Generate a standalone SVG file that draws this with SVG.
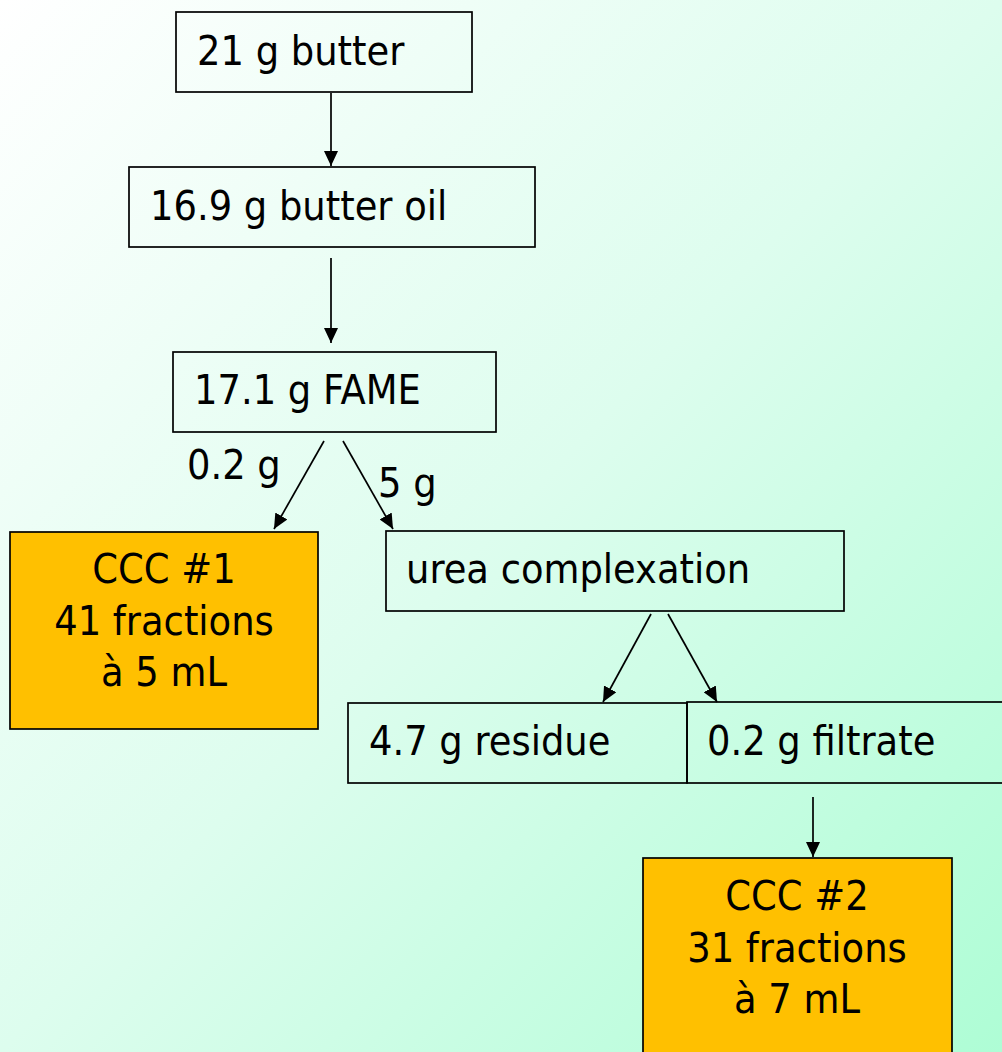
<svg xmlns="http://www.w3.org/2000/svg" width="1002" height="1052" viewBox="0 0 1002 1052">
  <defs>
    <linearGradient id="bg" x1="0" y1="0" x2="1" y2="1">
      <stop offset="0" stop-color="#FFFFFF"/>
      <stop offset="0.5" stop-color="#DDFDEE"/>
      <stop offset="1" stop-color="#AEFDD5"/>
    </linearGradient>
    <marker id="arrow" viewBox="0 0 15 14" refX="15" refY="7" markerWidth="15" markerHeight="14" markerUnits="userSpaceOnUse" orient="auto">
      <path d="M0,0 L15,7 L0,14 Z" fill="#000"/>
    </marker>
    <style>
      .box { fill: none; stroke: #000; stroke-width: 1.7; }
      .hot { fill: #FFC000; stroke: #000; stroke-width: 1.7; }
      .lbl { font-family: "DejaVu Sans Condensed", "DejaVu Sans", sans-serif; font-stretch: condensed; font-size: 41px; fill: #000; }
      .mid { text-anchor: middle; }
      .conn line { stroke: #000; stroke-width: 1.7; marker-end: url(#arrow); }
    </style>
  </defs>

  <rect x="0" y="0" width="1002" height="1052" fill="url(#bg)"/>

  <g id="butter">
    <rect class="box" x="176" y="12" width="296" height="80"/>
    <text class="lbl" x="197" y="65">21 g butter</text>
  </g>

  <g id="butter-oil">
    <rect class="box" x="129" y="167" width="406" height="80"/>
    <text class="lbl" x="150" y="220">16.9 g butter oil</text>
  </g>

  <g id="fame">
    <rect class="box" x="173" y="352" width="323" height="80"/>
    <text class="lbl" x="194" y="404">17.1 g FAME</text>
  </g>

  <g id="ccc1">
    <rect class="hot" x="10" y="532" width="308" height="197"/>
    <text class="lbl mid" x="164" y="583">CCC #1</text>
    <text class="lbl mid" x="164" y="635">41 fractions</text>
    <text class="lbl mid" x="164" y="686">à 5 mL</text>
  </g>

  <g id="urea">
    <rect class="box" x="386" y="531" width="458" height="80"/>
    <text class="lbl" x="406" y="583">urea complexation</text>
  </g>

  <g id="residue">
    <rect class="box" x="348" y="703" width="339" height="80"/>
    <text class="lbl" x="369" y="755">4.7 g residue</text>
  </g>

  <g id="filtrate">
    <rect class="box" x="687" y="702" width="330" height="81"/>
    <text class="lbl" x="707" y="755">0.2 g filtrate</text>
  </g>

  <g id="ccc2">
    <rect class="hot" x="643" y="858" width="309" height="210"/>
    <text class="lbl mid" x="797" y="910">CCC #2</text>
    <text class="lbl mid" x="797" y="962">31 fractions</text>
    <text class="lbl mid" x="797" y="1013">à 7 mL</text>
  </g>

  <g id="connectors" class="conn">
    <line x1="331" y1="93" x2="331" y2="166"/>
    <line x1="331" y1="258" x2="331" y2="343"/>
    <line x1="324" y1="441" x2="274" y2="529"/>
    <line x1="343" y1="441" x2="393" y2="529"/>
    <line x1="651" y1="614" x2="603" y2="702"/>
    <line x1="668" y1="614" x2="717" y2="702"/>
    <line x1="813" y1="797" x2="813" y2="857"/>
    <text class="lbl" x="187" y="479">0.2 g</text>
    <text class="lbl" x="378" y="497">5 g</text>
  </g>
</svg>
